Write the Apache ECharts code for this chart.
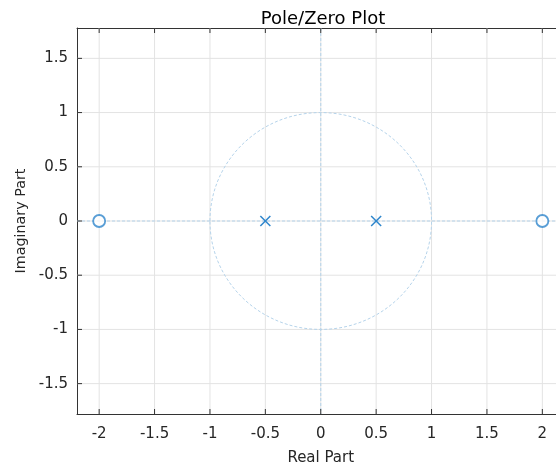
<!DOCTYPE html>
<html><head><meta charset="utf-8">
<script src="https://cdn.jsdelivr.net/npm/echarts@6/dist/echarts.min.js"></script>
<style>html,body{margin:0;padding:0;background:#fff}#c{width:556px;height:467px}</style>
</head><body><div id="c"></div>
<script>
const zerosRe = [-2, 2];
const zerosIm = [0, 0];
const polesRe = [-0.5, 0.5];
const polesIm = [0, 0];
const xTicks = [-2, -1.5, -1, -0.5, 0, 0.5, 1, 1.5, 2];
const yTicks = [-1.5, -1, -0.5, 0, 0.5, 1, 1.5];
const xRange = [-2.2, 2.2];
const yRange = [-1.78, 1.78];
const unitCircle = [[0, 0, 1]]; // center x, center y, radius

const font = 'DejaVu Sans';
const textColor = '#262626';
const axisColor = '#333333';
const gridColor = '#e3e3e3';
const refColor = '#b5d3ea';
const blue = '#2f86cc';
const fmt = v => String(v);

function xTickRender(kind) {
  return function (params, api) {
    const cs = params.coordSys;
    const x = api.coord([api.value(0), 0])[0];
    if (kind === 'grid') {
      return { type: 'line', shape: { x1: x, y1: cs.y, x2: x, y2: cs.y + cs.height },
        style: { stroke: gridColor, lineWidth: 1 } };
    }
    return { type: 'group', children: [
      { type: 'line', shape: { x1: x, y1: cs.y + cs.height, x2: x, y2: cs.y + cs.height - 5 },
        style: { stroke: axisColor, lineWidth: 1 } },
      { type: 'line', shape: { x1: x, y1: cs.y, x2: x, y2: cs.y + 5 },
        style: { stroke: axisColor, lineWidth: 1 } }
    ] };
  };
}
function yTickRender(kind) {
  return function (params, api) {
    const cs = params.coordSys;
    const y = api.coord([0, api.value(1)])[1];
    if (kind === 'grid') {
      return { type: 'line', shape: { x1: cs.x, y1: y, x2: cs.x + cs.width, y2: y },
        style: { stroke: gridColor, lineWidth: 1 } };
    }
    return { type: 'line', shape: { x1: cs.x, y1: y, x2: cs.x + 5, y2: y },
      style: { stroke: axisColor, lineWidth: 1 } };
  };
}

const chart = echarts.init(document.getElementById('c'));
chart.setOption({
  animation: false,
  title: { text: 'Pole/Zero Plot', left: 318, top: 5, textAlign: 'center',
    textStyle: { fontFamily: font, fontSize: 18, fontWeight: 'normal', color: '#000' } },
  grid: { show: false, left: 77, top: 28, width: 487.5, height: 386, containLabel: false, outerBoundsMode: 'none' },
  xAxis: [
    {
      type: 'value', min: xRange[0], max: xRange[1], position: 'bottom',
      name: 'Real Part', nameLocation: 'middle', nameGap: 37,
      nameTextStyle: { fontFamily: font, fontSize: 15, color: textColor },
      axisLine: { show: true, onZero: false, lineStyle: { color: axisColor, width: 1 } },
      axisTick: { show: false },
      axisLabel: { show: true, customValues: xTicks, formatter: fmt, margin: 13,
        fontFamily: font, fontSize: 15, color: textColor },
      splitLine: { show: false }
    },
    {
      type: 'value', min: xRange[0], max: xRange[1], position: 'top',
      axisLine: { show: true, onZero: false, lineStyle: { color: axisColor, width: 1 } },
      axisTick: { show: false },
      axisLabel: { show: false },
      splitLine: { show: false }
    }
  ],
  yAxis: [{
    type: 'value', min: yRange[0], max: yRange[1], position: 'left',
    name: 'Imaginary Part', nameLocation: 'middle', nameGap: 49,
    nameTextStyle: { fontFamily: font, fontSize: 14.3, color: textColor },
    axisLine: { show: true, onZero: false, lineStyle: { color: axisColor, width: 1 } },
    axisTick: { show: false },
    axisLabel: { show: true, customValues: yTicks, formatter: fmt, margin: 9,
      fontFamily: font, fontSize: 15, color: textColor },
    splitLine: { show: false }
  }],
  series: [
    { type: 'custom', silent: true, z: 1, data: xTicks.map(v => [v, 0]), renderItem: xTickRender('grid') },
    { type: 'custom', silent: true, z: 1, data: yTicks.map(v => [0, v]), renderItem: yTickRender('grid') },
    { type: 'custom', silent: true, z: 6, data: xTicks.map(v => [v, 0]), renderItem: xTickRender('tick') },
    { type: 'custom', silent: true, z: 6, data: yTicks.map(v => [0, v]), renderItem: yTickRender('tick') },
    {
      type: 'custom', silent: true, z: 3,
      data: unitCircle,
      renderItem: function (params, api) {
        const cs = params.coordSys;
        const c = api.coord([api.value(0), api.value(1)]);
        const s = api.size([api.value(2), api.value(2)]);
        const st = { fill: null, stroke: refColor, lineWidth: 1, lineDash: [3, 2] };
        return { type: 'group', children: [
          { type: 'line', shape: { x1: c[0], y1: cs.y, x2: c[0], y2: cs.y + cs.height }, style: st },
          { type: 'line', shape: { x1: cs.x, y1: c[1], x2: cs.x + cs.width, y2: c[1] }, style: st },
          { type: 'ellipse', shape: { cx: c[0], cy: c[1], rx: s[0], ry: s[1] }, style: st }
        ] };
      }
    },
    {
      type: 'scatter', z: 5,
      data: zerosRe.map((x, i) => [x, zerosIm[i]]),
      symbol: 'circle', symbolSize: 12,
      itemStyle: { color: '#fff', borderColor: blue, borderWidth: 1.8 }
    },
    {
      type: 'custom', silent: true, z: 5,
      data: polesRe.map((x, i) => [x, polesIm[i]]),
      renderItem: function (params, api) {
        const p = api.coord([api.value(0), api.value(1)]);
        const h = 5;
        const st = { stroke: blue, lineWidth: 1.5 };
        return { type: 'group', children: [
          { type: 'line', shape: { x1: p[0] - h, y1: p[1] - h, x2: p[0] + h, y2: p[1] + h }, style: st },
          { type: 'line', shape: { x1: p[0] - h, y1: p[1] + h, x2: p[0] + h, y2: p[1] - h }, style: st }
        ] };
      }
    }
  ]
});
</script>
</body></html>
